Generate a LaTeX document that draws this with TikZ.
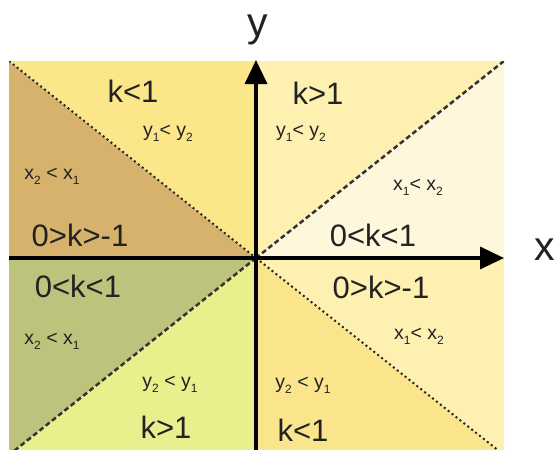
\documentclass[tikz,border=0pt]{standalone}
\usepackage{fontspec}
\setmainfont{Liberation Sans}
\usetikzlibrary{arrows.meta}
\definecolor{cbrown}{HTML}{D6B26C}
\definecolor{cyel}{HTML}{FBE68A}
\definecolor{clight}{HTML}{FEF0B0}
\definecolor{clighter}{HTML}{FFF7DC}
\definecolor{cgreen}{HTML}{E9EF8C}
\definecolor{colive}{HTML}{BDC27C}
\definecolor{cyel2}{HTML}{FAE58C}
\definecolor{ctext}{HTML}{222222}
\newcommand{\lowsub}[1]{\raisebox{-0.45ex}{\fontsize{12}{12}\selectfont #1}}
\tikzset{
  big/.style={text=ctext, font=\fontsize{31}{31}\selectfont, inner sep=0pt},
  small/.style={text=ctext, font=\fontsize{19.5}{19.5}\selectfont, inner sep=0pt},
  axlabel/.style={text=ctext, font=\fontsize{41}{41}\selectfont, inner sep=0pt},
  dotline/.style={line width=2pt, dash pattern=on 2pt off 3pt, color=black!85},
  dashline/.style={line width=2.5pt, dash pattern=on 5pt off 3pt, color=black!80},
  axis/.style={line width=3.5pt, -{Triangle[length=24pt, width=22pt]}}
}
\begin{document}
\begin{tikzpicture}[x=1pt, y=-1pt]
\useasboundingbox (0,0) rectangle (558,450);
\coordinate (O) at (256,258);
\coordinate (TL) at (9,61);
\coordinate (TR) at (504,61);
\coordinate (BL) at (9,455);
\coordinate (BR) at (504,455);
\coordinate (TM) at (256,61);
\coordinate (BM) at (256,455);
\coordinate (LM) at (9,258);
\coordinate (RM) at (504,258);
\begin{scope}
\clip (9,61) rectangle (504,450);
\fill[cbrown] (TL) -- (O) -- (LM) -- cycle;
\fill[cyel] (TL) -- (TM) -- (O) -- cycle;
\fill[clight] (TM) -- (TR) -- (O) -- cycle;
\fill[clighter] (TR) -- (RM) -- (O) -- cycle;
\fill[clight] (O) -- (RM) -- (BR) -- cycle;
\fill[cyel2] (O) -- (BR) -- (BM) -- cycle;
\fill[colive] (LM) -- (O) -- (BL) -- cycle;
\fill[cgreen] (O) -- (BL) -- (BM) -- cycle;
\draw[dotline] (TL) -- (O);
\draw[dotline] (O) -- (BR);
\draw[dashline] (TR) -- (O);
\draw[dashline] (O) -- (BL);
\end{scope}
\coordinate (xs) at (9,258);
\coordinate (xe) at (504,258);
\coordinate (ys) at (256,452);
\coordinate (ye) at (256,60);
\draw[axis] (xs) -- (xe);
\draw[axis] (ys) -- (ye);
\node[axlabel] (ylab) at (258,30) {y};
\node[axlabel] (xlab) at (545,250) {x};
\node[big] (k1) at (133,91) {k<1};
\node[big] (k2) at (318,93) {k>1};
\node[small] (s1) at (168,133) {y\lowsub{1}< y\lowsub{2}};
\node[small] (s2) at (301,133) {y\lowsub{1}< y\lowsub{2}};
\node[small] (s3) at (52,176) {x\lowsub{2} < x\lowsub{1}};
\node[small] (s4) at (418,187) {x\lowsub{1}< x\lowsub{2}};
\node[big] (k3) at (80,235) {0>k>-1};
\node[big] (k4) at (373,235) {0<k<1};
\node[big] (k5) at (78,286) {0<k<1};
\node[big] (k6) at (381,287) {0>k>-1};
\node[small] (s5) at (52,341) {x\lowsub{2} < x\lowsub{1}};
\node[small] (s6) at (419,336) {x\lowsub{1}< x\lowsub{2}};
\node[small] (s7) at (170,384) {y\lowsub{2} < y\lowsub{1}};
\node[small] (s8) at (303,385) {y\lowsub{2} < y\lowsub{1}};
\node[big] (k7) at (166,427) {k>1};
\node[big] (k8) at (303,430) {k<1};
\end{tikzpicture}
\end{document}
